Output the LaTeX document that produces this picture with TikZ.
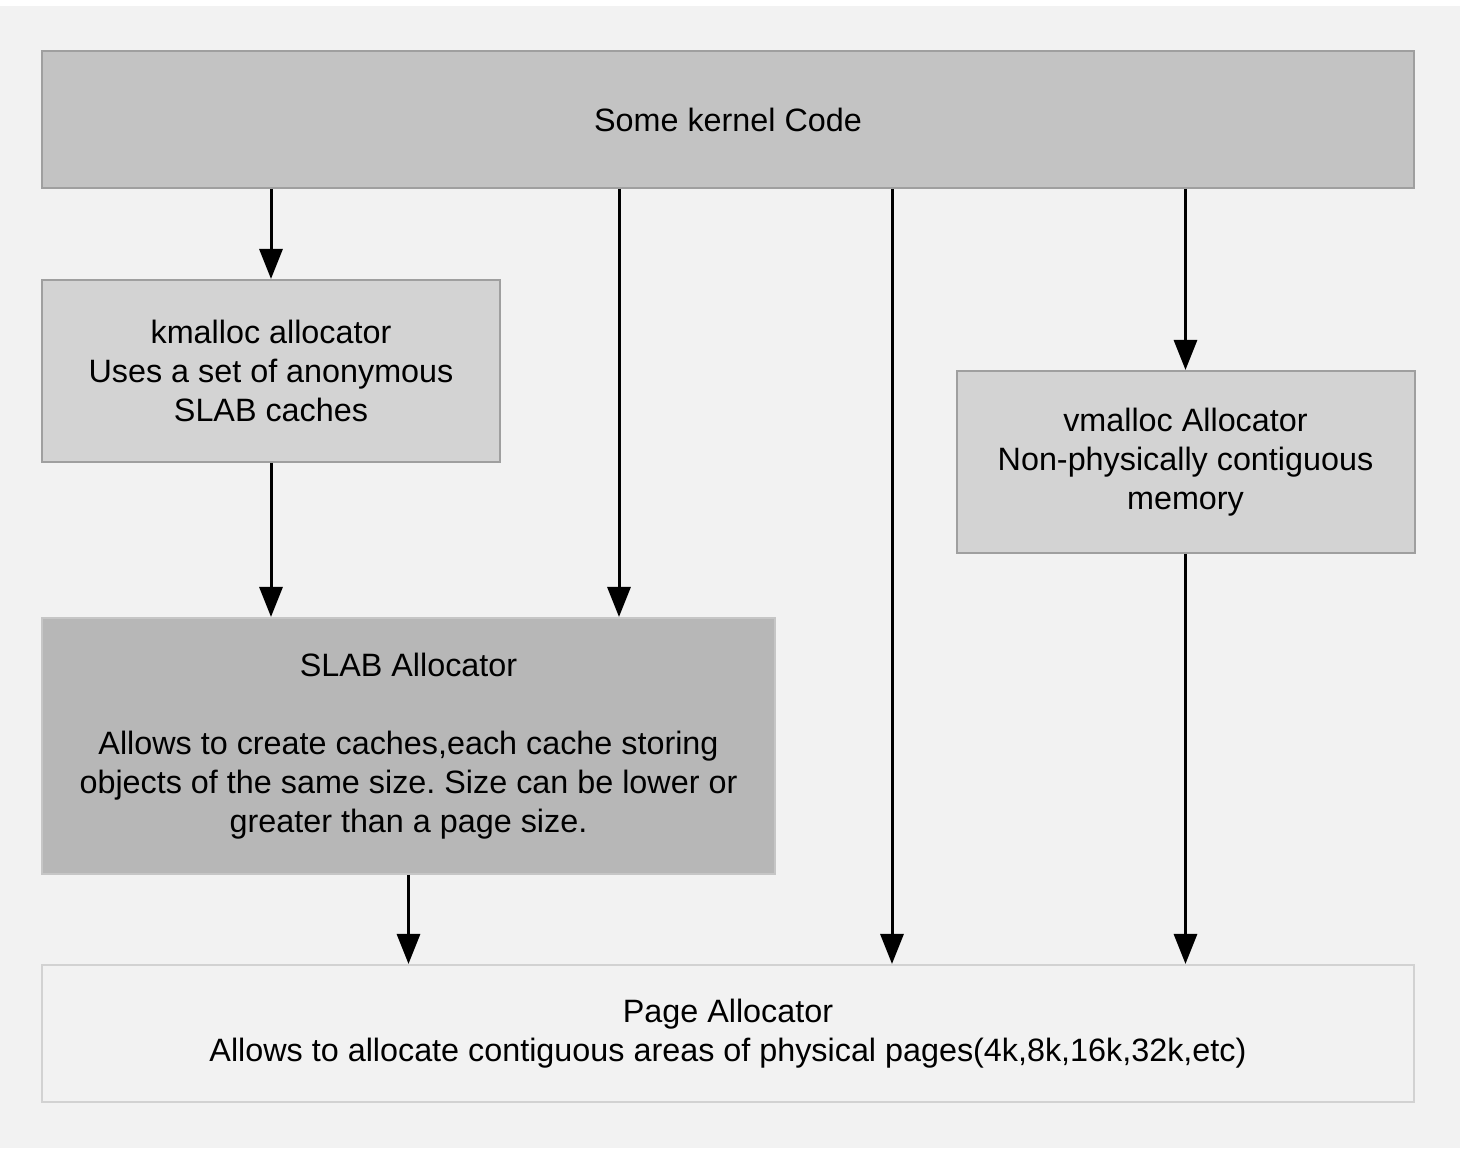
\documentclass[tikz,border=0pt]{standalone}
\usepackage{fontspec}
\setmainfont{Liberation Sans}
\usetikzlibrary{arrows.meta}
\frenchspacing
\definecolor{bgray}{HTML}{F2F2F2}
\definecolor{topgray}{HTML}{C3C3C3}
\definecolor{allocgray}{HTML}{D3D3D3}
\definecolor{slabgray}{HTML}{B7B7B7}
\begin{document}
\begin{tikzpicture}[x=1cm,y=1cm,
    font=\fontsize{9.2pt}{11.1pt}\selectfont,
    layer/.style={draw=#1,line width=0.02cm,align=center,inner sep=0pt,minimum width=13.72cm,minimum height=1.37cm},
    alloc/.style={draw=#1,line width=0.02cm,align=center,inner sep=0pt,minimum width=4.58cm,minimum height=1.82cm},
    call/.style={-{Triangle[width=0.23cm,length=0.30cm]},line width=0.03cm}]
\useasboundingbox (0,0) rectangle (14.77,-11.67);
\fill[bgray] (0,-0.06) rectangle (14.6,-11.48);
\node[layer=gray!75,fill=topgray] (kernel) at (7.28,-1.195) {Some kernel Code};
\node[alloc=gray!75,fill=allocgray] (kmalloc) at (2.71,-3.71) {kmalloc allocator\\Uses a set of anonymous\\SLAB caches};
\node[alloc=gray!75,fill=allocgray] (vmalloc) at (11.855,-4.62) {vmalloc Allocator\\Non-physically contiguous\\memory};
\node[draw=gray!45,line width=0.02cm,fill=slabgray,align=center,inner sep=0pt,minimum width=7.33cm,minimum height=2.56cm] (slab) at (4.085,-7.46)
    {SLAB Allocator\\[11.1pt]Allows to create caches,each cache storing\\objects of the same size. Size can be lower or\\greater than a page size.};
\node[layer=gray!35,fill=bgray] (page) at (7.28,-10.335) {Page Allocator\\Allows to allocate contiguous areas of physical pages(4k,8k,16k,32k,etc)};
\coordinate (direct) at (6.19,0);
\coordinate (bypass) at (8.92,0);
\draw[call] (kernel.south -| kmalloc) -- (kmalloc.north);
\draw[call] (kernel.south -| direct) -- (slab.north -| direct);
\draw[call] (kernel.south -| bypass) -- (page.north -| bypass);
\draw[call] (kernel.south -| vmalloc) -- (vmalloc.north);
\draw[call] (kmalloc.south) -- (slab.north -| kmalloc);
\draw[call] (slab.south) -- (page.north -| slab);
\draw[call] (vmalloc.south) -- (page.north -| vmalloc);
\end{tikzpicture}
\end{document}
